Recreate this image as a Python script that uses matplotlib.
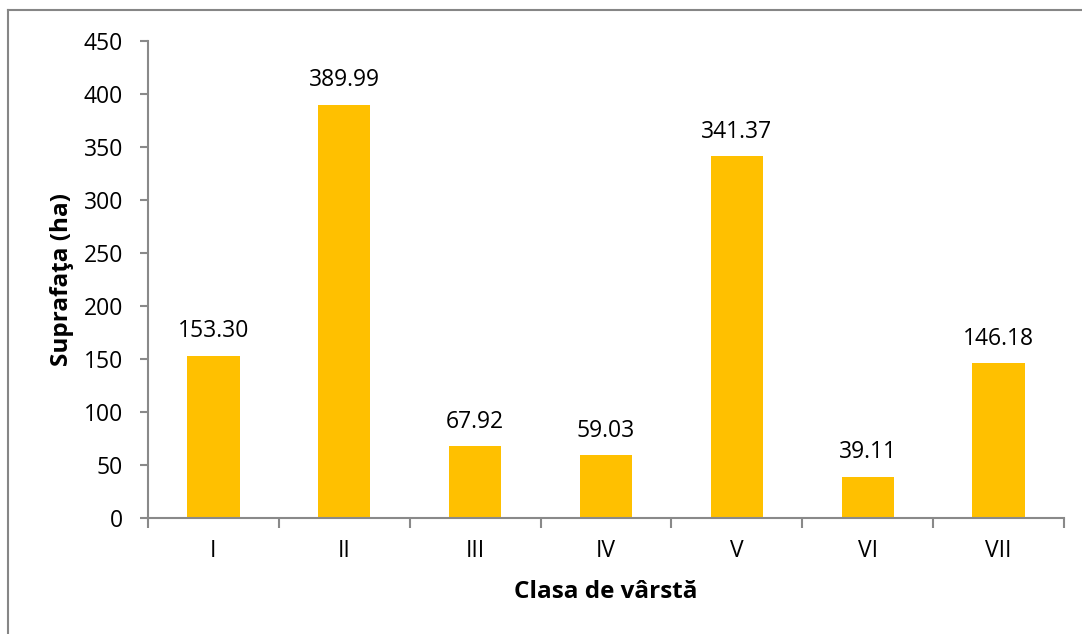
import matplotlib.pyplot as plt
from matplotlib.lines import Line2D

plt.rcParams['font.family'] = ['Open Sans', 'DejaVu Sans']

classes = ['I', 'II', 'III', 'IV', 'V', 'VI', 'VII']
surface = [153.30, 389.99, 67.92, 59.03, 341.37, 39.11, 146.18]
y_ticks = [0, 50, 100, 150, 200, 250, 300, 350, 400, 450]

W, H = 1082, 634
fig = plt.figure(figsize=(W / 100, H / 100), dpi=100)
ax = fig.add_axes([148 / W, 1 - 518 / H, (1064 - 148) / W, (518 - 41) / H])

axis_color = '#898989'
x = list(range(len(classes)))
ax.bar(x, surface, width=0.4, color='#FFC000')
for xi, v in zip(x, surface):
    ax.annotate(f'{v:.2f}', (xi, v), xytext=(0, 9), textcoords='offset points',
                ha='center', va='bottom', fontsize=16.5)

ax.set_xlim(-0.5, len(classes) - 0.5)
ax.set_ylim(0, 450)
ax.set_yticks(y_ticks)
ax.set_xticks(x)
ax.set_xticklabels(classes)
ax.set_xticks([i - 0.5 for i in range(len(classes) + 1)], minor=True)
ax.tick_params(axis='x', which='major', length=0, pad=15, labelsize=16.5)
ax.tick_params(axis='x', which='minor', length=7, width=1.5, color=axis_color)
ax.tick_params(axis='y', length=6, width=1.5, color=axis_color, labelsize=16.5, pad=12)

for side in ['top', 'right']:
    ax.spines[side].set_visible(False)
for side in ['left', 'bottom']:
    ax.spines[side].set_color(axis_color)
    ax.spines[side].set_linewidth(1.5)

ax.set_ylabel('Suprafaţa (ha)', fontsize=17.5, fontweight='bold', labelpad=7)
ax.set_xlabel('Clasa de vârstă', fontsize=17.5, fontweight='bold', labelpad=12)

# chart area border (left and top edges visible)
bx0, by0 = 8 / W, 1 - 10 / H
for xs, ys in [([bx0, bx0], [0, by0]), ([bx0, 1], [by0, by0])]:
    fig.add_artist(Line2D(xs, ys, transform=fig.transFigure, color='#868686', lw=1.5))

fig.savefig('out.png', dpi=100)
